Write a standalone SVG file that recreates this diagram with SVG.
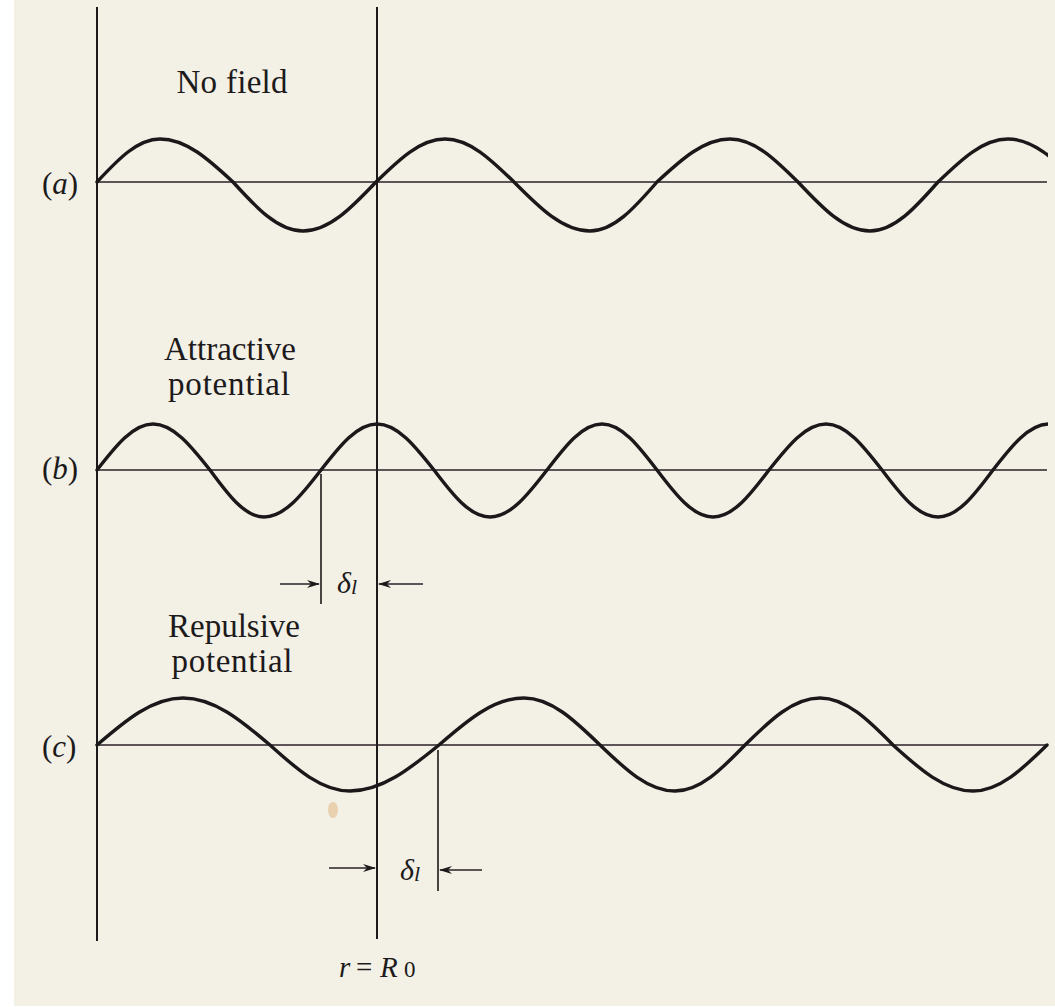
<svg xmlns="http://www.w3.org/2000/svg" width="1055" height="1007" viewBox="0 0 1055 1007">
<defs>
<style>
.lbl{font-family:"Liberation Serif","Times New Roman",serif;font-size:33px;fill:#1c1a1a}
.tag{font-family:"Liberation Serif","Times New Roman",serif;font-size:31px;fill:#1c1a1a}
.sym{font-family:"Liberation Serif","Times New Roman",serif;font-style:italic;fill:#1c1a1a}
.wave{fill:none;stroke:#1a1818;stroke-width:3.4;stroke-linecap:round;stroke-linejoin:round}
.axis{fill:none;stroke:#2a2026;stroke-width:1.6}
.vline{fill:none;stroke:#1c1a1a;stroke-width:2}
.tick{fill:none;stroke:#1c1a1a;stroke-width:1.6}
.dim{fill:none;stroke:#2a2026;stroke-width:1.6}
</style>
<marker id="ah" viewBox="0 0 13 9" markerWidth="13" markerHeight="9" refX="12" refY="4.5" orient="auto" markerUnits="userSpaceOnUse">
<path d="M0,0.5 L13,4.5 L0,8.5 L4,4.5 z" fill="#1c1a1a"/>
</marker>
<clipPath id="clipR"><rect x="0" y="0" width="1048" height="1007"/></clipPath>
</defs>

<rect x="0" y="0" width="1055" height="1007" fill="#ffffff"/>
<rect x="14" y="0" width="1041" height="1006" fill="#f3f0e6"/>
<ellipse cx="333" cy="810" rx="5" ry="8" fill="#e6c59c" opacity="0.75"/>

<g id="boundaries">
<line class="vline" x1="97" y1="7" x2="97" y2="941"/>
<line class="vline" x1="377" y1="7" x2="377" y2="939"/>
</g>

<g id="row-a">
<text class="lbl" x="232" y="93" text-anchor="middle" textLength="111">No field</text>
<text class="tag" x="42" y="194">(<tspan font-style="italic">a</tspan>)</text>
<line class="axis" x1="97" y1="182" x2="1047" y2="182"/>
<path class="wave" clip-path="url(#clipR)" d="M97,182 C118.1,159.4 137.4,139 160,139 C186.1,139 208.6,159.4 233,182 C256.4,207.7 277.9,231 303,231 C329.1,231 351.6,207.7 376,182 C399.1,159.4 420.3,139 445,139 C469.7,139 490.9,159.4 514,182 C539.4,207.7 562.8,231 590,231 C614,231 634.6,207.7 657,182 C681.4,159.4 703.9,139 730,139 C754.4,139 775.3,159.4 798,182 C822.1,207.7 844.2,231 870,231 C894.4,231 915.3,207.7 938,182 C961.4,159.4 982.9,139 1008,139 C1033.1,139 1054.6,159.4 1078,182"/>
</g>

<g id="row-b">
<text class="lbl" x="230" y="360" text-anchor="middle">Attractive</text>
<text class="lbl" x="229" y="395" text-anchor="middle" textLength="122">potential</text>
<text class="tag" x="42" y="479">(<tspan font-style="italic">b</tspan>)</text>
<line class="axis" x1="97" y1="470" x2="1047" y2="470"/>
<path class="wave" clip-path="url(#clipR)" d="M97,470 C115.7,445.9 133,424 153,424 C173.4,424 190.9,445.9 210,470 C228.1,494.7 244.7,517 264,517 C284.4,517 301.9,494.7 321,470 C339.7,445.9 357,424 377,424 C397.4,424 414.9,445.9 434,470 C452.7,494.7 470,517 490,517 C510.4,517 527.9,494.7 547,470 C565.4,445.9 582.3,424 602,424 C621.7,424 638.6,445.9 657,470 C675.7,494.7 693,517 713,517 C733.1,517 750.3,494.7 769,470 C788.1,445.9 805.6,424 826,424 C846.1,424 863.3,445.9 882,470 C900.7,494.7 918,517 938,517 C957.7,517 974.6,494.7 993,470 C1011.7,445.9 1029,424 1049,424 C1069.1,424 1086.3,445.9 1105,470"/>
<line class="tick" x1="321" y1="474" x2="321" y2="604"/>
<text class="sym" x="337" y="593" style="font-size:30px">δ<tspan style="font-size:22px" dy="1">l</tspan></text>
</g>

<g id="row-c">
<text class="lbl" x="234" y="637" text-anchor="middle" textLength="132">Repulsive</text>
<text class="lbl" x="232" y="672" text-anchor="middle" textLength="121">potential</text>
<text class="tag" x="42" y="757">(<tspan font-style="italic">c</tspan>)</text>
<line class="axis" x1="97" y1="745" x2="1047" y2="745"/>
<path class="wave" d="M97,745 C125.7,720.3 152.2,698 183,698 C214.2,698 240.9,720.3 270,745 C296.7,769.2 321.4,791 350,791 C381.9,791 409.2,769.2 439,745 C467.4,720.3 493.6,698 524,698 C551.2,698 574.6,720.3 600,745 C625.1,769.2 648.1,791 675,791 C700.1,791 721.6,769.2 745,745 C770.1,720.3 793.1,698 820,698 C846.1,698 868.6,720.3 893,745 C919.7,769.2 944.4,791 973,791 C999.5,791 1022.3,769.2 1047,745"/>
<line class="tick" x1="438" y1="750" x2="438" y2="891"/>
<text class="sym" x="400" y="880" style="font-size:30px">δ<tspan style="font-size:22px" dy="1">l</tspan></text>
<text class="sym" style="font-size:29px" y="977"><tspan x="339">r</tspan><tspan x="356" font-style="normal">=</tspan><tspan x="380">R</tspan><tspan x="404" font-style="normal" style="font-size:23px">0</tspan></text>
</g>

<g id="connectors">
<line class="dim" x1="280" y1="584" x2="319" y2="584" marker-end="url(#ah)"/>
<line class="dim" x1="423" y1="584" x2="379" y2="584" marker-end="url(#ah)"/>
<line class="dim" x1="329" y1="868" x2="375" y2="868" marker-end="url(#ah)"/>
<line class="dim" x1="482" y1="870" x2="440" y2="870" marker-end="url(#ah)"/>
</g>
</svg>
